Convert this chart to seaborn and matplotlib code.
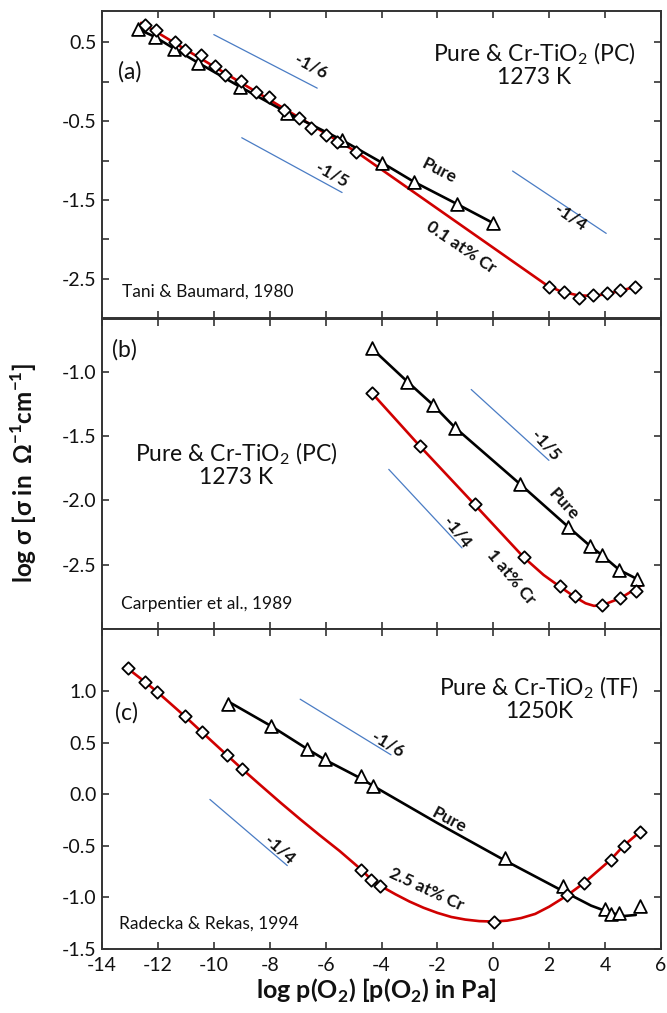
import numpy as np
import pandas as pd
import matplotlib
matplotlib.use("Agg")
import matplotlib.pyplot as plt
import seaborn as sns

# ---------------- data ----------------
# Panel (a): Tani & Baumard 1980, 1273 K
a_pure_x = [-12.70, -12.10, -11.41, -10.55, -9.05, -7.38, -5.41, -3.97, -2.84, -1.31, 0.0]
a_pure_y = [0.67, 0.57, 0.42, 0.24, -0.065, -0.39, -0.74, -1.03, -1.27, -1.55, -1.795]
a_cr_x = [-12.46, -12.06, -11.38, -11.03, -10.46, -9.97, -9.59, -9.03, -8.48, -8.04,
          -7.48, -6.96, -6.54, -5.97, -5.59, -4.93, 2.0, 2.54, 3.07, 3.57, 4.06, 4.54, 5.07]
a_cr_y = [0.72, 0.66, 0.51, 0.41, 0.34, 0.196, 0.09, 0.015, -0.13, -0.19,
          -0.36, -0.46, -0.58, -0.68, -0.77, -0.89, -2.61, -2.67, -2.74, -2.71, -2.68, -2.65, -2.61]
a_crfit_x = [-12.6, -4.9, 1.9, 2.4, 3.0, 3.5, 4.0, 4.6, 5.1]
a_crfit_y = [0.75, -0.89, -2.58, -2.66, -2.71, -2.72, -2.70, -2.65, -2.60]

# Panel (b): Carpentier et al. 1989, 1273 K
b_pure_x = [-4.35, -3.07, -2.17, -1.37, 0.945, 2.67, 3.45, 3.88, 4.51, 5.15]
b_pure_y = [-0.818, -1.078, -1.255, -1.434, -1.871, -2.204, -2.352, -2.424, -2.541, -2.612]
b_cr_x = [-4.35, -2.62, -0.67, 1.09, 2.37, 2.91, 3.88, 4.55, 5.09]
b_cr_y = [-1.164, -1.58, -2.032, -2.443, -2.669, -2.742, -2.812, -2.76, -2.703]
b_crfit_x = [-4.35, -2.62, -0.67, 1.09, 1.8, 2.37, 2.91, 3.3, 3.6, 3.9, 4.55, 5.3]
b_crfit_y = [-1.164, -1.58, -2.032, -2.443, -2.58, -2.669, -2.75, -2.80, -2.82, -2.815, -2.76, -2.66]

# Panel (c): Radecka & Rekas 1994, 1250 K
c_pure_x = [-9.49, -7.95, -6.67, -6.01, -4.72, -4.30, 0.41, 2.50, 4.0, 4.2, 4.51, 5.26]
c_pure_y = [0.872, 0.663, 0.433, 0.343, 0.173, 0.08, -0.619, -0.891, -1.115, -1.157, -1.147, -1.083]
c_purefit_x = [-9.5, -7.95, -6.67, -6.0, -4.72, -4.3, -2.0, 0.4, 2.5, 3.5, 4.2, 4.7, 5.1]
c_purefit_y = [0.90, 0.66, 0.44, 0.33, 0.15, 0.08, -0.28, -0.64, -0.94, -1.08, -1.15, -1.18, -1.17]
c_cr_x = [-13.08, -12.46, -12.02, -11.03, -10.42, -9.54, -9.0, -4.75, -4.37, -4.06,
          0.01, 2.62, 3.25, 4.2, 4.66, 5.26]
c_cr_y = [1.218, 1.087, 0.99, 0.753, 0.60, 0.381, 0.247, -0.734, -0.833, -0.885,
          -1.234, -0.978, -0.859, -0.635, -0.50, -0.362]
c_crfit_x = [-13.08, -12.46, -12.02, -11.03, -10.42, -9.54, -9.0, -8.3, -7.6, -6.9, -6.2,
             -5.5, -4.75, -4.37, -4.06, -3.5, -3.0, -2.5, -2.0, -1.5, -1.0, -0.5, 0.0, 0.5,
             1.0, 1.5, 2.0, 2.62, 3.25, 4.2, 4.66, 5.26]
c_crfit_y = [1.218, 1.087, 0.99, 0.753, 0.60, 0.381, 0.247, 0.08, -0.085, -0.245, -0.40,
             -0.55, -0.725, -0.825, -0.885, -0.97, -1.04, -1.10, -1.15, -1.19, -1.215, -1.23,
             -1.234, -1.225, -1.20, -1.16, -1.09, -0.985, -0.859, -0.635, -0.50, -0.362]

# slope guide lines: (x0, y0, x1, y1, label)
a_guides = [(-10.0, 0.60, -6.3, -0.08, "-1/6"), (-9.0, -0.71, -5.41, -1.406, "-1/5"),
            (0.69, -1.133, 4.04, -1.925, "-1/4")]
b_guides = [(-0.79, -1.138, 1.99, -1.689, "-1/5"), (-3.74, -1.759, -1.12, -2.37, "-1/4")]
c_guides = [(-6.91, 0.92, -3.66, 0.381, "-1/6"), (-10.14, -0.051, -7.37, -0.692, "-1/4")]

x_ticks = list(range(-14, 7, 2))

# ---------------- style ----------------
sns.set_theme(style="ticks")
plt.rcParams["font.family"] = ["Lato", "DejaVu Sans"]
plt.rcParams["axes.unicode_minus"] = False
plt.rcParams["mathtext.fontset"] = "custom"
plt.rcParams["mathtext.rm"] = "Lato"
plt.rcParams["mathtext.bf"] = "Lato:bold"

RED = "#D00000"
BLUE = "#4A7CC4"
SPINE = "#333333"
TXT = "#111111"
LBL = 12.5  # in-plot bold labels
TITLE = 16.5
CITE = 12.5

fig = plt.figure(figsize=(6.67, 10.13), dpi=100)
L, W = 102 / 667, 559 / 667
ax_a = fig.add_axes([L, 1 - 318 / 1013, W, 307 / 1013])
ax_b = fig.add_axes([L, 1 - 629 / 1013, W, 310 / 1013])
ax_c = fig.add_axes([L, 1 - 949 / 1013, W, 320 / 1013])


def style_ax(ax, ylim, major, labels, minor, show_x):
    ax.set_xlim(-14, 6)
    ax.set_ylim(*ylim)
    ax.set_xticks(x_ticks)
    ax.set_xticklabels([str(t) for t in x_ticks])
    ax.set_yticks(major)
    ax.set_yticklabels(labels)
    ax.set_yticks(minor, minor=True)
    ax.tick_params(which="both", direction="in", top=True, right=True, length=5,
                   width=1.2, color=SPINE, labelsize=14, pad=4, labelcolor=TXT)
    ax.tick_params(axis="x", labelbottom=show_x, pad=6)
    for s in ax.spines.values():
        s.set_linewidth(1.4)
        s.set_color(SPINE)
    ax.set_xlabel("")
    ax.set_ylabel("")


def curve(ax, xs, ys, color):
    sns.lineplot(x=xs, y=ys, ax=ax, color=color, lw=1.9, sort=False, estimator=None, zorder=3)


def pts(ax, xs, ys, marker, size):
    sns.scatterplot(x=xs, y=ys, ax=ax, marker=marker, s=size, facecolor="white",
                    edgecolor="black", linewidth=1.3, zorder=4)


def btext(ax, x, y, s, rot):
    ax.text(x, y, s, rotation=rot, ha="center", va="center", fontsize=LBL,
            fontweight="bold", rotation_mode="anchor", zorder=5, color=TXT)


def guides(ax, gl, label_pos):
    for (x0, y0, x1, y1, lab), (tx, ty, rot) in zip(gl, label_pos):
        sns.lineplot(x=[x0, x1], y=[y0, y1], ax=ax, color=BLUE, lw=0.9, sort=False,
                     estimator=None, zorder=2)
        btext(ax, tx, ty, lab, rot)


def title(ax, x, y, s):
    ax.text(x, y, s, fontsize=TITLE, ha="center", va="center", linespacing=1.0, color=TXT)


# ---------- panel (a) ----------
curve(ax_a, a_crfit_x, a_crfit_y, RED)
curve(ax_a, a_pure_x, a_pure_y, "black")
pts(ax_a, a_pure_x, a_pure_y, "^", 85)
pts(ax_a, a_cr_x, a_cr_y, "D", 40)
guides(ax_a, a_guides, [(-6.54, 0.196, -28), (-5.77, -1.175, -29), (2.75, -1.72, -34)])
btext(ax_a, -1.95, -1.13, "Pure", -27)
btext(ax_a, -1.17, -2.10, "0.1 at% Cr", -34)
ax_a.text(-13.02, 0.13, "(a)", fontsize=TITLE, ha="center", va="center", color=TXT)
title(ax_a, 1.45, 0.22, "Pure & Cr-TiO$_2$ (PC)\n1273 K")
ax_a.text(-13.3, -2.67, "Tani & Baumard, 1980", fontsize=CITE, ha="left", va="center", color=TXT)
style_ax(ax_a, (-3.0, 0.9), [0.5, -0.5, -1.5, -2.5], ["0.5", "-0.5", "-1.5", "-2.5"],
         [0.0, -1.0, -2.0], False)

# ---------- panel (b) ----------
curve(ax_b, b_crfit_x, b_crfit_y, RED)
curve(ax_b, b_pure_x, b_pure_y, "black")
pts(ax_b, b_pure_x, b_pure_y, "^", 85)
pts(ax_b, b_cr_x, b_cr_y, "D", 40)
guides(ax_b, b_guides, [(1.86, -1.572, -48), (-1.30, -2.248, -52)])
btext(ax_b, 2.5, -2.03, "Pure", -48)
btext(ax_b, 0.65, -2.6, "1 at% Cr", -50)
ax_b.text(-13.19, -0.826, "(b)", fontsize=TITLE, ha="center", va="center", color=TXT)
title(ax_b, -9.2, -1.72, "Pure & Cr-TiO$_2$ (PC)\n1273 K")
ax_b.text(-13.33, -2.807, "Carpentier et al., 1989", fontsize=CITE, ha="left", va="center", color=TXT)
style_ax(ax_b, (-3.0, -0.59), [-1.0, -1.5, -2.0, -2.5], ["-1.0", "-1.5", "-2.0", "-2.5"],
         [], False)

# ---------- panel (c) ----------
curve(ax_c, c_crfit_x, c_crfit_y, RED)
curve(ax_c, c_purefit_x, c_purefit_y, "black")
pts(ax_c, c_pure_x, c_pure_y, "^", 85)
pts(ax_c, c_cr_x, c_cr_y, "D", 40)
guides(ax_c, c_guides, [(-3.78, 0.487, -31), (-7.63, -0.538, -42)])
btext(ax_c, -1.57, -0.25, "Pure", -28)
btext(ax_c, -2.41, -0.923, "2.5 at% Cr", -25)
ax_c.text(-13.14, 0.79, "(c)", fontsize=TITLE, ha="center", va="center", color=TXT)
title(ax_c, 1.63, 0.93, "Pure & Cr-TiO$_2$ (TF)\n1250K")
ax_c.text(-13.4, -1.253, "Radecka & Rekas, 1994", fontsize=CITE, ha="left", va="center", color=TXT)
style_ax(ax_c, (-1.5, 1.6), [-1.5, -1.0, -0.5, 0.0, 0.5, 1.0],
         ["-1.5", "-1.0", "-0.5", "0.0", "0.5", "1.0"], [], True)

# ---------- axis titles ----------
fig.text(24 / 667, 1 - 473 / 1013,
         "log σ [σ in  Ω$^{\\mathbf{-1}}$cm$^{\\mathbf{-1}}$]",
         rotation=90, ha="center", va="center", fontsize=17.5, fontweight="bold", color=TXT)
fig.text(376 / 667, 1 - 991 / 1013,
         "log p(O$_{\\mathbf{2}}$) [p(O$_{\\mathbf{2}}$) in Pa]",
         ha="center", va="center", fontsize=18, fontweight="bold", color=TXT)

fig.savefig("out.png", dpi=100)
